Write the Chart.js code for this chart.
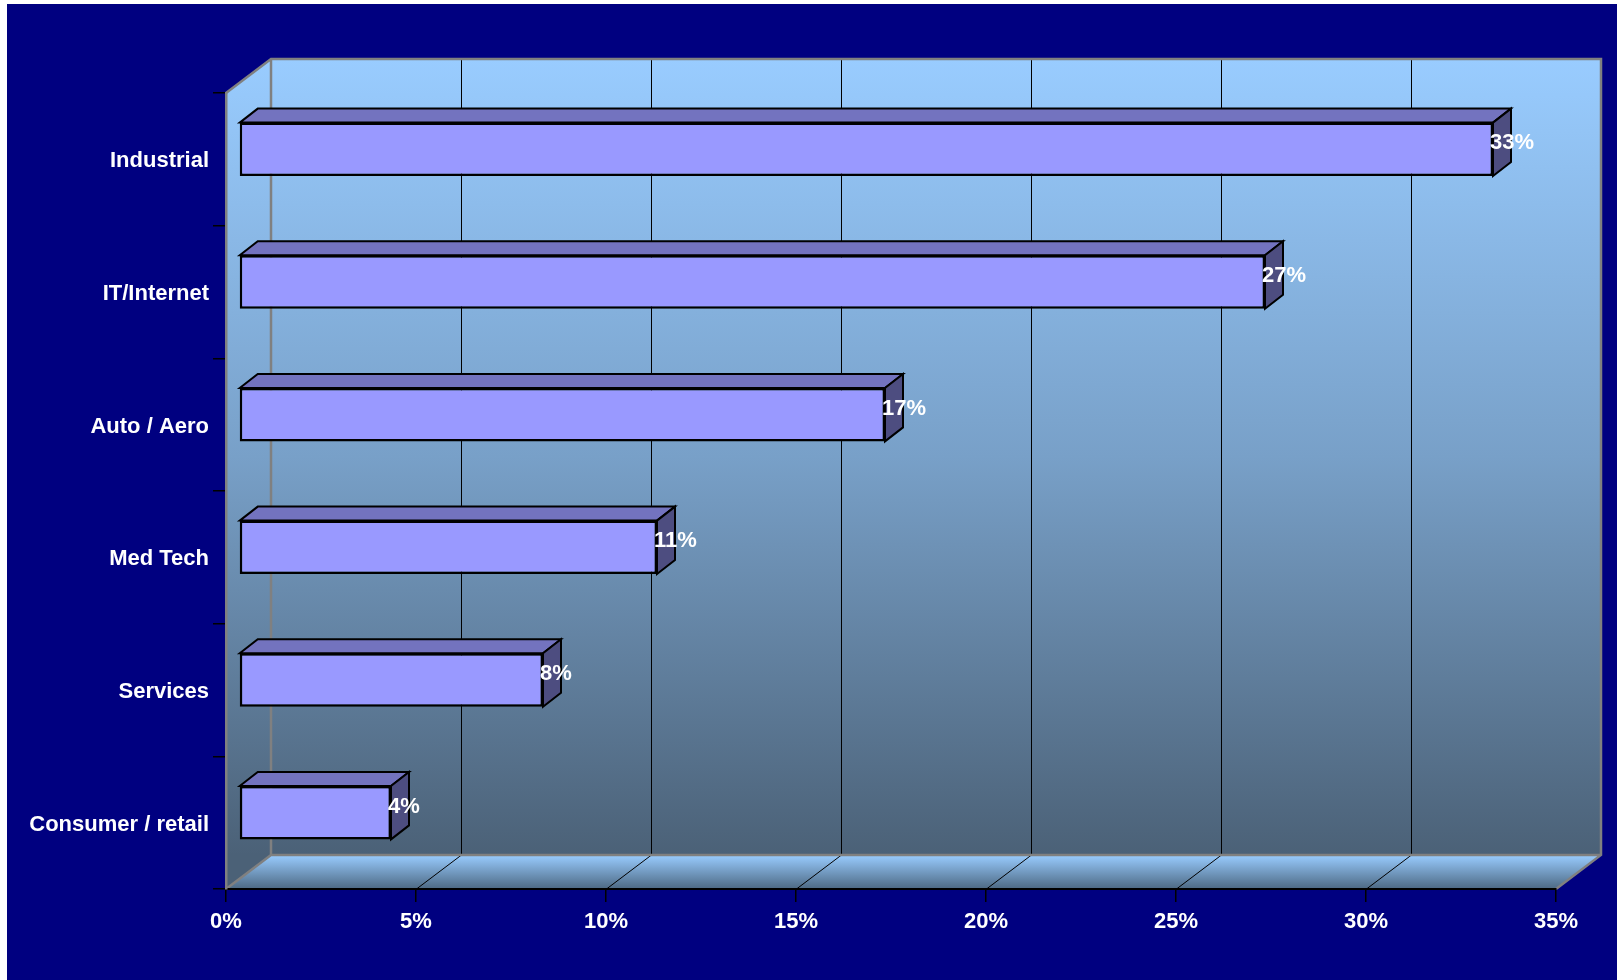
<!DOCTYPE html>
<html>
<head>
<meta charset="utf-8">
<script src="https://cdn.jsdelivr.net/npm/chart.js@4"></script>
<style>
  html, body { margin: 0; padding: 0; background: #ffffff; overflow: hidden; }
  canvas { display: block; }
</style>
</head>
<body>
<canvas id="chartContainer" width="1617" height="980"></canvas>
<script>
// chart data
const sectors = ['Industrial', 'IT/Internet', 'Auto / Aero', 'Med Tech', 'Services', 'Consumer / retail'];
const shares = [33, 27, 17, 11, 8, 4];
const axisMin = 0;
const axisMax = 35;
const axisStep = 5;

// colours
const navy = '#000080';
const wallTop = '#99ccff';
const wallBottom = '#4b6177';
const edgeGray = '#808080';
const barFront = '#9999ff';
const barTop = '#7373bf';
const barSide = '#4d4d80';
const fontFamily = '"Liberation Sans", Arial, sans-serif';

// 3d look
const depth = { x: 45, y: -34 };        // wall depth
const barShift = { x: 13, y: -10 };     // bar front face offset into the box
const barDepth = { x: 18, y: -14 };     // bar thickness in depth

const threeDPlugin = {
    id: 'threeD',
    beforeDraw(chart) {
        const ctx = chart.ctx;
        const { left, right, top, bottom } = chart.chartArea;
        const xs = chart.scales.x;
        ctx.save();
        ctx.fillStyle = '#ffffff';
        ctx.fillRect(0, 0, chart.width, chart.height);
        ctx.fillStyle = navy;
        ctx.fillRect(7, 4, chart.width - 7, chart.height - 4);

        const bl = left + depth.x, br = right + depth.x;
        const bt = top + depth.y, bb = bottom + depth.y;

        // back wall + side wall
        const grad = ctx.createLinearGradient(0, bt, 0, bb);
        grad.addColorStop(0, wallTop);
        grad.addColorStop(0.5, '#78a0c8');
        grad.addColorStop(1, wallBottom);
        ctx.fillStyle = grad;
        ctx.fillRect(bl, bt, br - bl, bb - bt);
        ctx.beginPath();
        ctx.moveTo(left, top);
        ctx.lineTo(bl, bt);
        ctx.lineTo(bl, bb);
        ctx.lineTo(left, bottom);
        ctx.closePath();
        ctx.fill();

        // floor
        const fgrad = ctx.createLinearGradient(0, bb, 0, bottom);
        fgrad.addColorStop(0, wallTop);
        fgrad.addColorStop(1, '#4d6983');
        ctx.fillStyle = fgrad;
        ctx.beginPath();
        ctx.moveTo(left, bottom);
        ctx.lineTo(right, bottom);
        ctx.lineTo(br, bb);
        ctx.lineTo(bl, bb);
        ctx.closePath();
        ctx.fill();

        // grid lines on wall and floor
        ctx.strokeStyle = '#000000';
        ctx.lineWidth = 1;
        xs.ticks.forEach(t => {
            if (t.value <= axisMin || t.value >= axisMax) return;
            const px = Math.round(xs.getPixelForValue(t.value)) + 0.5;
            ctx.beginPath();
            ctx.moveTo(px + depth.x, bt);
            ctx.lineTo(px + depth.x, bb);
            ctx.moveTo(px, bottom);
            ctx.lineTo(px + depth.x, bb);
            ctx.stroke();
        });

        // gray edges
        ctx.strokeStyle = edgeGray;
        ctx.lineWidth = 2.5;
        ctx.beginPath();
        ctx.moveTo(left, top);
        ctx.lineTo(bl, bt);
        ctx.lineTo(br, bt);
        ctx.lineTo(br, bb);
        ctx.lineTo(right, bottom);
        ctx.moveTo(bl, bt);
        ctx.lineTo(bl, bb);
        ctx.lineTo(br, bb);
        ctx.moveTo(left, bottom);
        ctx.lineTo(bl, bb);
        ctx.stroke();
        ctx.restore();
    },
    beforeDatasetsDraw(chart) {
        chart.ctx.save();
        chart.ctx.translate(barShift.x, barShift.y);
    },
    afterDatasetsDraw(chart) {
        const ctx = chart.ctx;
        const meta = chart.getDatasetMeta(0);
        ctx.lineWidth = 2;
        ctx.strokeStyle = '#000000';
        ctx.lineJoin = 'miter';
        meta.data.forEach((bar, i) => {
            const l = bar.base, r = bar.x;
            const t = bar.y - bar.height / 2, b = bar.y + bar.height / 2;
            // top face
            ctx.fillStyle = barTop;
            ctx.beginPath();
            ctx.moveTo(l, t);
            ctx.lineTo(l + barDepth.x, t + barDepth.y);
            ctx.lineTo(r + barDepth.x, t + barDepth.y);
            ctx.lineTo(r, t);
            ctx.closePath();
            ctx.fill();
            ctx.stroke();
            // side face
            ctx.fillStyle = barSide;
            ctx.beginPath();
            ctx.moveTo(r, t);
            ctx.lineTo(r + barDepth.x, t + barDepth.y);
            ctx.lineTo(r + barDepth.x, b + barDepth.y);
            ctx.lineTo(r, b);
            ctx.closePath();
            ctx.fill();
            ctx.stroke();
        });
        // value labels
        ctx.fillStyle = '#ffffff';
        ctx.font = 'bold 22px ' + fontFamily;
        ctx.textAlign = 'left';
        ctx.textBaseline = 'middle';
        meta.data.forEach((bar, i) => {
            ctx.fillText(shares[i] + '%', bar.x - 3, bar.y - 6);
        });
        ctx.restore();
    }
};

class ChartService {
    constructor() {
        this.chart;
        this.appendChart();
    }

    appendChart() {
        const chartContainer = document.getElementById('chartContainer');
        this.chart = new Chart(chartContainer, {
            type: 'bar',
            data: {
                labels: sectors,
                datasets: [{
                    data: shares,
                    backgroundColor: barFront,
                    borderColor: '#000000',
                    borderWidth: 2.5,
                    borderSkipped: false,
                    categoryPercentage: 1,
                    barPercentage: 0.403
                }]
            },
            options: {
                indexAxis: 'y',
                responsive: false,
                animation: false,
                devicePixelRatio: 1,
                layout: { padding: { top: 93, right: 61, bottom: 0, left: 0 } },
                plugins: { legend: { display: false }, tooltip: { enabled: false } },
                scales: {
                    x: {
                        min: axisMin,
                        max: axisMax,
                        afterFit: scale => { scale.height = 91; },
                        ticks: {
                            stepSize: axisStep,
                            color: '#ffffff',
                            padding: 7,
                            font: { family: fontFamily, size: 22, weight: 'bold' },
                            callback: v => v + '%'
                        },
                        grid: { drawOnChartArea: false, color: '#000000', tickLength: 13, lineWidth: 1.5 },
                        border: { color: '#000000', width: 2 }
                    },
                    y: {
                        afterFit: scale => { scale.width = 226; },
                        ticks: {
                            color: '#ffffff',
                            padding: 4,
                            labelOffset: 2,
                            font: { family: fontFamily, size: 22, weight: 'bold' }
                        },
                        grid: { drawOnChartArea: false, color: '#000000', tickLength: 13, lineWidth: 1.5 },
                        border: { color: edgeGray, width: 2.5 }
                    }
                }
            },
            plugins: [threeDPlugin]
        });
    }
}

const chartService = new ChartService();
</script>
</body>
</html>
